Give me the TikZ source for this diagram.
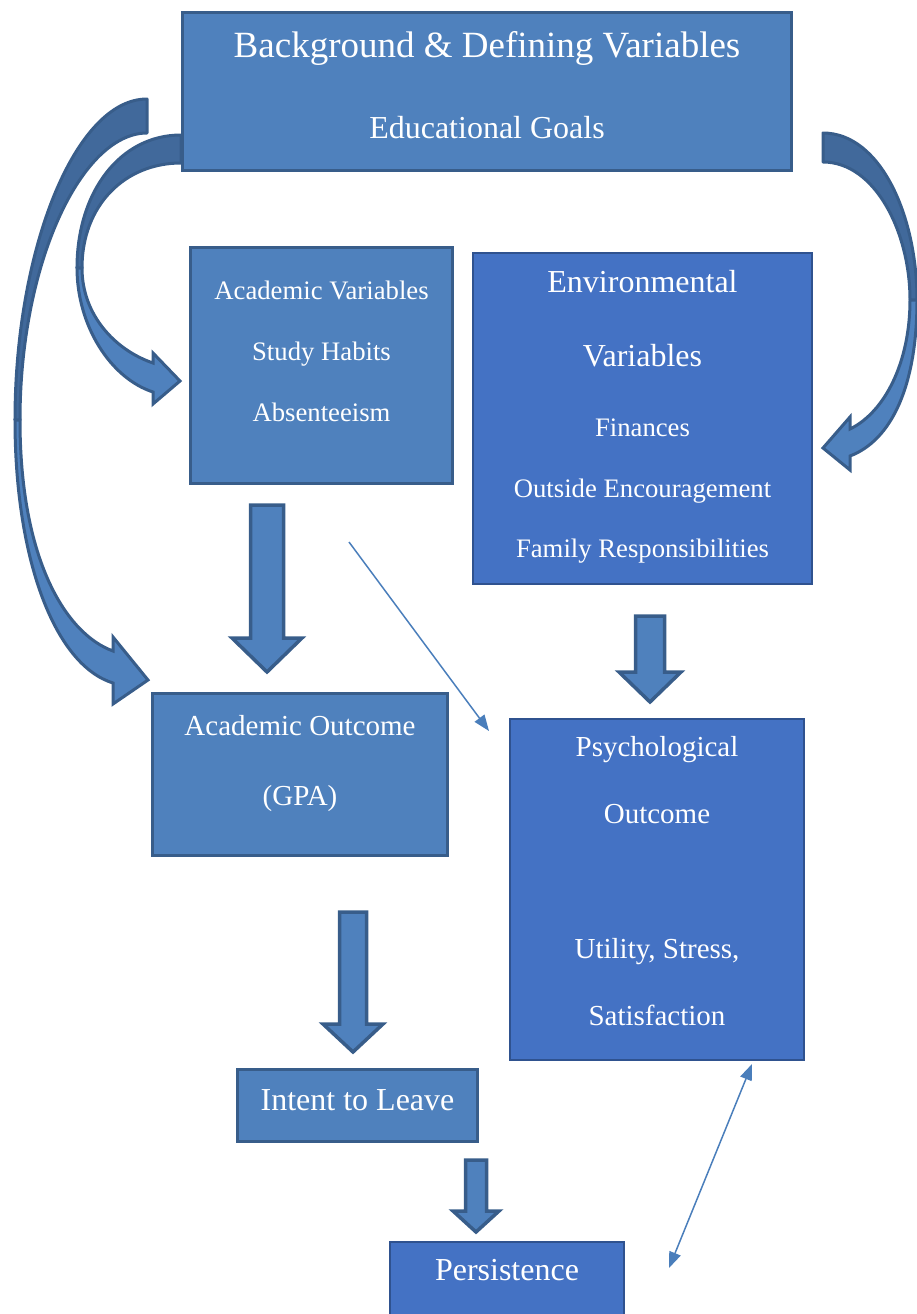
\documentclass[tikz,border=0pt]{standalone}
\usepackage{fontspec}
\setmainfont{Liberation Serif}
\usetikzlibrary{arrows.meta}
\definecolor{boxblue}{HTML}{4F81BD}
\definecolor{boxedge}{HTML}{385D8A}
\definecolor{deepblue}{HTML}{4472C4}
\definecolor{deepedge}{HTML}{2F528F}
\definecolor{backblue}{HTML}{41699B}
\definecolor{lineblue}{HTML}{4A7EBB}

% straight block arrow pointing down: centre x, top, head base, tip, half shaft, half head
\newcommand\blockdown[6]{%
  \filldraw[barrow] (#1-#5,#2) -- (#1+#5,#2) -- (#1+#5,#3) -- (#1+#6,#3)
    -- (#1,#4) -- (#1-#6,#3) -- (#1-#5,#3) -- cycle;}

\begin{document}
\begin{tikzpicture}[x=1pt,y=-1pt,
  lbox/.style={draw=boxedge, fill=boxblue, line width=3pt, inner sep=0pt},
  dbox/.style={draw=deepedge, fill=deepblue, line width=2pt, inner sep=0pt},
  txt/.style={text=white, inner sep=0pt, anchor=base},
  big/.style={font=\fontsize{32}{38}\selectfont},
  mid/.style={font=\fontsize{29}{35}\selectfont},
  small/.style={font=\fontsize{26.7}{32}\selectfont},
  barrow/.style={draw=boxedge, fill=boxblue, line width=3.5pt, line join=miter},
  cback/.style={draw=boxedge, fill=backblue, line width=3pt, line join=round},
  cfront/.style={draw=boxedge, fill=boxblue, line width=3pt, line join=miter},
  thinarrow/.style={draw=lineblue, line width=1.5pt}]

\clip (0,0) rectangle (917,1314);

% curved arrows from the top box
% outer left arrow (to academic outcome)
\filldraw[cback] (147,99) .. controls (75,99) and (15,250) .. (15,420)
  -- (20,420) .. controls (20,262) and (82,133) .. (147,133) -- cycle;
\filldraw[cfront] (15,420) .. controls (15,560) and (55,665) .. (113,683)
  -- (113,704) -- (148,680) -- (113,637) -- (113,651)
  .. controls (66,634) and (20,560) .. (20,420) -- cycle;
% inner left arrow (to academic variables)
\filldraw[cback] (181,135) .. controls (120,135) and (77,192) .. (77,268)
  -- (82,268) .. controls (82,205) and (125,163) .. (181,163) -- cycle;
\filldraw[cfront] (77,268) .. controls (77,325) and (110,378) .. (153,392)
  -- (153,404) -- (180,381) -- (153,353) -- (153,363)
  .. controls (115,350) and (82,315) .. (82,268) -- cycle;
% right arrow (to environmental variables)
\filldraw[cback] (823,133) .. controls (880,133) and (917,215) .. (917,300)
  -- (910,300) .. controls (910,232) and (875,162) .. (823,162) -- cycle;
\filldraw[cfront] (917,300) .. controls (917,385) and (892,440) .. (850,456)
  -- (850,470) -- (823,448) -- (850,417) -- (850,429)
  .. controls (885,412) and (910,362) .. (910,300) -- cycle;

% boxes
\node[lbox, minimum width=609, minimum height=158] (bg) at (487,91.5) {};
\node[lbox, minimum width=262, minimum height=236] (acad) at (321.5,365.5) {};
\node[dbox, minimum width=339, minimum height=331] (env) at (642.5,418.5) {};
\node[lbox, minimum width=295, minimum height=162] (gpa) at (300,774.5) {};
\node[dbox, minimum width=294, minimum height=341] (psych) at (657,889.5) {};
\node[lbox, minimum width=240, minimum height=72] (intent) at (357.5,1105.5) {};
\node[dbox, minimum width=234, minimum height=97] (persist) at (507,1290) {};

% texts
\node[txt, font=\fontsize{37}{44}\selectfont] (bgA) at (487,58) {Background \& Defining Variables};
\node[txt, big] (bgB) at (487,138.5) {Educational Goals};

\node[txt, small] (acA) at (321.5,299) {Academic Variables};
\node[txt, small] (acB) at (321.5,360) {Study Habits};
\node[txt, small] (acC) at (321.5,421) {Absenteeism};

\node[txt, big] (enA) at (642.5,292.5) {Environmental};
\node[txt, big] (enB) at (642.5,366.5) {Variables};
\node[txt, small] (enC) at (642.5,436) {Finances};
\node[txt, small] (enD) at (642.5,497) {Outside Encouragement};
\node[txt, small] (enE) at (642.5,557) {Family Responsibilities};

\node[txt, mid] (gpA) at (300,735) {Academic Outcome};
\node[txt, mid] (gpB) at (300,805) {(GPA)};

\node[txt, mid] (psA) at (657,756) {Psychological};
\node[txt, mid] (psB) at (657,823) {Outcome};
\node[txt, mid] (psC) at (657,958) {Utility, Stress,};
\node[txt, mid] (psD) at (657,1025) {Satisfaction};

\node[txt, big] (inA) at (357.5,1110.5) {Intent to Leave};
\node[txt, big] (peA) at (507,1280.5) {Persistence};

% block arrows
\blockdown{267}{505}{638}{672}{16.5}{35}
\blockdown{650}{616}{672}{702}{14.5}{31}
\blockdown{353}{912}{1024}{1052}{13.5}{30}
\blockdown{476}{1160}{1211}{1232}{10.5}{23}

% thin connectors
\coordinate (dA) at (349,542);
\coordinate (dB) at (489,731);
\draw[thinarrow, -{Triangle[length=16pt,width=12pt]}] (dA) -- (dB);
\coordinate (eA) at (752,1064);
\coordinate (eB) at (669,1268);
\draw[thinarrow, {Triangle[length=16pt,width=12pt]}-{Triangle[length=16pt,width=12pt]}] (eB) -- (eA);
\end{tikzpicture}
\end{document}
